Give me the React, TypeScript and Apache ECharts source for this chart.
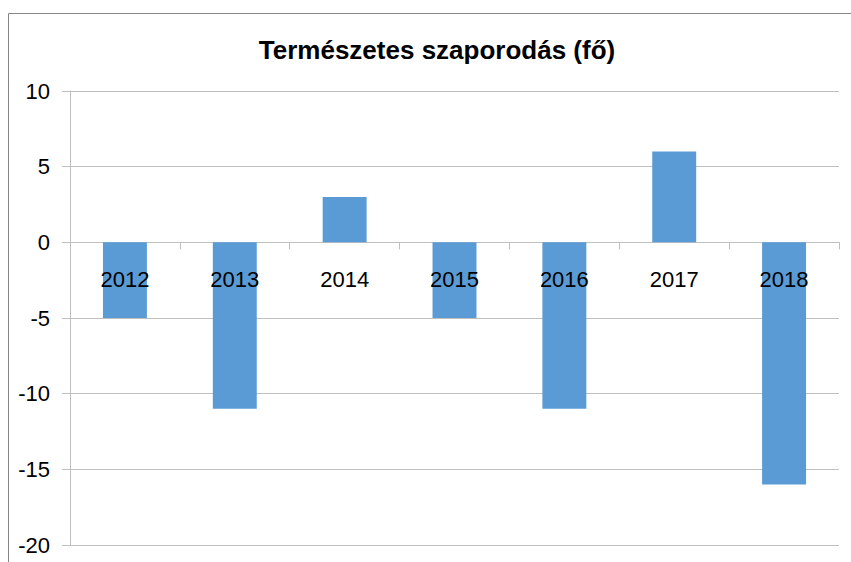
import React, { useEffect, useRef } from "react";
import * as echarts from "echarts";

const titleText = "Természetes szaporodás (fő)";
const years = ["2012", "2013", "2014", "2015", "2016", "2017", "2018"];
const values = [-5, -11, 3, -5, -11, 6, -16];
const labelAnchors = [0, 0, 0, 0, 0, 0, 0];
const yMin = -20;
const yMax = 10;
const yStep = 5;

export default function App() {
  const ref = useRef<HTMLDivElement>(null);
  useEffect(() => {
    if (!ref.current) return;
    const chart = echarts.init(ref.current, undefined, { renderer: "svg" });
    const font = "'Liberation Sans', Arial, sans-serif";
    chart.setOption({
      animation: false,
      backgroundColor: "#ffffff",
      title: {
        text: titleText,
        left: 432,
        textAlign: "center",
        top: 32,
        textStyle: { fontFamily: font, fontWeight: "bold", fontSize: 26, color: "#000" },
      },
      graphic: [
        {
          type: "rect",
          shape: { x: 8.5, y: 13.5, width: 900, height: 600 },
          style: { fill: "none", stroke: "#868686", lineWidth: 1 },
          silent: true,
        },
      ],
      grid: { left: 70, right: 12, top: 91, bottom: 17, containLabel: false, outerBoundsMode: "none" },
      xAxis: {
        type: "category",
        data: years,
        axisLine: { show: true, onZero: true, lineStyle: { color: "#BFBFBF", width: 1 } },
        axisTick: { show: true, inside: false, length: 7, lineStyle: { color: "#BFBFBF" } },
        axisLabel: { show: false },
      },
      yAxis: {
        type: "value",
        min: yMin,
        max: yMax,
        interval: yStep,
        axisLine: { show: true, lineStyle: { color: "#BFBFBF", width: 1 } },
        axisTick: { show: true, length: 8, lineStyle: { color: "#BFBFBF" } },
        axisLabel: { fontFamily: font, fontSize: 22, color: "#000", margin: 20 },
        splitLine: { show: true, lineStyle: { color: "#BFBFBF", width: 1 } },
      },
      series: [
        {
          type: "bar",
          data: values,
          barWidth: "40%",
          itemStyle: { color: "#5B9BD5" },
          z: 2,
        },
        {
          type: "scatter",
          data: labelAnchors,
          symbolSize: 0,
          silent: true,
          z: 10,
          itemStyle: { opacity: 1, color: "#000" },
          label: {
            show: true,
            position: "bottom",
            distance: 26,
            formatter: "{b}",
            fontFamily: font,
            fontSize: 22,
            color: "#000",
            opacity: 1,
          },
        },
      ],
    });
    return () => chart.dispose();
  }, []);
  return (
    <div
      ref={ref}
      style={{ position: "fixed", left: 0, top: 0, width: 851, height: 562, background: "#fff" }}
    />
  );
}
